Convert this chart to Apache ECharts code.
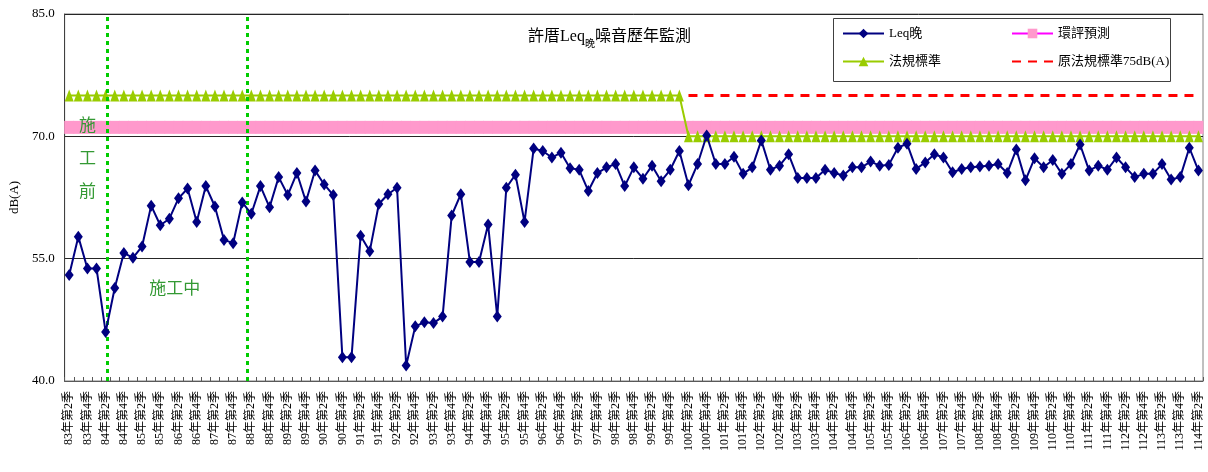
<!DOCTYPE html>
<html>
<head>
<meta charset="utf-8">
<script src="https://cdn.jsdelivr.net/npm/echarts@6/dist/echarts.min.js"></script>
<style>
html,body{margin:0;padding:0;background:#fff;}
#chart{width:1208px;height:472px;}
</style>
</head>
<body>
<div id="chart"></div>
<script>
const categories = [
'83年第2季','83年第3季','83年第4季',
'84年第1季','84年第2季','84年第3季','84年第4季',
'85年第1季','85年第2季','85年第3季','85年第4季',
'86年第1季','86年第2季','86年第3季','86年第4季',
'87年第1季','87年第2季','87年第3季','87年第4季',
'88年第1季','88年第2季','88年第3季','88年第4季',
'89年第1季','89年第2季','89年第3季','89年第4季',
'90年第1季','90年第2季','90年第3季','90年第4季',
'91年第1季','91年第2季','91年第3季','91年第4季',
'92年第1季','92年第2季','92年第3季','92年第4季',
'93年第1季','93年第2季','93年第3季','93年第4季',
'94年第1季','94年第2季','94年第3季','94年第4季',
'95年第1季','95年第2季','95年第3季','95年第4季',
'96年第1季','96年第2季','96年第3季','96年第4季',
'97年第1季','97年第2季','97年第3季','97年第4季',
'98年第1季','98年第2季','98年第3季','98年第4季',
'99年第1季','99年第2季','99年第3季','99年第4季',
'100年第1季','100年第2季','100年第3季','100年第4季',
'101年第1季','101年第2季','101年第3季','101年第4季',
'102年第1季','102年第2季','102年第3季','102年第4季',
'103年第1季','103年第2季','103年第3季','103年第4季',
'104年第1季','104年第2季','104年第3季','104年第4季',
'105年第1季','105年第2季','105年第3季','105年第4季',
'106年第1季','106年第2季','106年第3季','106年第4季',
'107年第1季','107年第2季','107年第3季','107年第4季',
'108年第1季','108年第2季','108年第3季','108年第4季',
'109年第1季','109年第2季','109年第3季','109年第4季',
'110年第1季','110年第2季','110年第3季','110年第4季',
'111年第1季','111年第2季','111年第3季','111年第4季',
'112年第1季','112年第2季','112年第3季','112年第4季',
'113年第1季','113年第2季','113年第3季','113年第4季',
'114年第1季','114年第2季'
];

const leqNight = [
53.0,57.7,53.8,53.8,46.0,51.4,55.7,55.1,56.5,61.5,
59.1,59.9,62.4,63.6,59.5,63.9,61.4,57.3,56.9,61.9,
60.5,63.9,61.3,65.0,62.8,65.5,62.0,65.8,64.1,62.8,
42.9,42.9,57.8,55.9,61.7,62.9,63.7,41.9,46.7,47.2,
47.1,47.9,60.3,62.9,54.6,54.6,59.2,47.9,63.7,65.3,
59.5,68.5,68.2,67.4,68.0,66.1,65.9,63.3,65.5,66.2,
66.6,63.9,66.2,64.8,66.4,64.5,65.9,68.2,64.0,66.6,
70.1,66.6,66.6,67.5,65.4,66.2,69.5,65.9,66.4,67.8,
64.9,64.9,64.9,65.9,65.5,65.2,66.2,66.2,66.9,66.4,
66.5,68.6,69.1,66.0,66.8,67.8,67.4,65.6,66.0,66.2,
66.3,66.4,66.6,65.5,68.4,64.6,67.3,66.2,67.1,65.4,
66.6,69.0,65.8,66.4,65.9,67.4,66.2,65.0,65.4,65.4,
66.6,64.7,65.0,68.6,65.8
];

const eiaPredicted = [
71.1,71.1,71.1,71.1,71.1,71.1,71.1,71.1,71.1,71.1,
71.1,71.1,71.1,71.1,71.1,71.1,71.1,71.1,71.1,71.1,
71.1,71.1,71.1,71.1,71.1,71.1,71.1,71.1,71.1,71.1,
71.1,71.1,71.1,71.1,71.1,71.1,71.1,71.1,71.1,71.1,
71.1,71.1,71.1,71.1,71.1,71.1,71.1,71.1,71.1,71.1,
71.1,71.1,71.1,71.1,71.1,71.1,71.1,71.1,71.1,71.1,
71.1,71.1,71.1,71.1,71.1,71.1,71.1,71.1,71.1,71.1,
71.1,71.1,71.1,71.1,71.1,71.1,71.1,71.1,71.1,71.1,
71.1,71.1,71.1,71.1,71.1,71.1,71.1,71.1,71.1,71.1,
71.1,71.1,71.1,71.1,71.1,71.1,71.1,71.1,71.1,71.1,
71.1,71.1,71.1,71.1,71.1,71.1,71.1,71.1,71.1,71.1,
71.1,71.1,71.1,71.1,71.1,71.1,71.1,71.1,71.1,71.1,
71.1,71.1,71.1,71.1,71.1
];

const legalStd = [
75,75,75,75,75,75,75,75,75,75,
75,75,75,75,75,75,75,75,75,75,
75,75,75,75,75,75,75,75,75,75,
75,75,75,75,75,75,75,75,75,75,
75,75,75,75,75,75,75,75,75,75,
75,75,75,75,75,75,75,75,75,75,
75,75,75,75,75,75,75,75,
70,70,70,70,70,70,70,70,70,70,
70,70,70,70,70,70,70,70,70,70,
70,70,70,70,70,70,70,70,70,70,
70,70,70,70,70,70,70,70,70,70,
70,70,70,70,70,70,70,70,70,70,
70,70,70,70,70,70,70
];

const oldStd75 = [
null,null,null,null,null,null,null,null,null,null,
null,null,null,null,null,null,null,null,null,null,
null,null,null,null,null,null,null,null,null,null,
null,null,null,null,null,null,null,null,null,null,
null,null,null,null,null,null,null,null,null,null,
null,null,null,null,null,null,null,null,null,null,
null,null,null,null,null,null,null,null,
75,75,75,75,75,75,75,75,75,75,
75,75,75,75,75,75,75,75,75,75,
75,75,75,75,75,75,75,75,75,75,
75,75,75,75,75,75,75,75,75,75,
75,75,75,75,75,75,75,75,75,75,
75,75,75,75,75,75,75
];

const yTicks = [40, 55, 70, 85];
const seriesNames = ['Leq晚', '環評預測', '法規標準', '原法規標準75dB(A)'];
// construction phase boundaries (in category-index units)
const phaseLines = [4.21, 19.57];
// phase annotations: [text, category-index position, dB position]
const phaseNotes = [
  ['施\n工\n前', 2.0, 67.4],
  ['施工中', 11.6, 51.4]
];

const serif = '"Liberation Serif","Times New Roman","Noto Sans CJK TC",serif';

const legendCommon = {
  orient: 'vertical',
  top: 27,
  itemWidth: 41, itemHeight: 12, itemGap: 15,
  padding: 0,
  textStyle: {fontFamily: serif, fontSize: 13, color: '#000'}
};

const chart = echarts.init(document.getElementById('chart'));
chart.setOption({
  animation: false,
  backgroundColor: '#fff',
  title: {
    text: '{a|許厝Leq}{s|晚}{a|噪音歷年監測}',
    left: 523, top: 18,
    textStyle: {
      fontWeight: 'normal',
      rich: {
        a: {fontFamily: serif, fontSize: 16, fontWeight: 'normal', color: '#000', lineHeight: 22, verticalAlign: 'bottom'},
        s: {fontFamily: serif, fontSize: 10, fontWeight: 'normal', color: '#000', lineHeight: 22, verticalAlign: 'bottom', padding: [0,0,-4,0]}
      }
    }
  },
  graphic: [{
    type: 'rect', left: 833, top: 18, z: 0,
    shape: {width: 337, height: 63},
    style: {fill: '#fff', stroke: '#404040', lineWidth: 1}
  }],
  legend: [
    Object.assign({}, legendCommon, {left: 842, data: [seriesNames[0], seriesNames[2]]}),
    Object.assign({}, legendCommon, {left: 1011, data: [
      {name: seriesNames[1]},
      {name: seriesNames[3], itemStyle: {opacity: 0}}
    ]})
  ],
  grid: {left: 63, right: 5, top: 14, bottom: 91, show: true, borderColor: '#808080', borderWidth: 1},
  xAxis: [{
    type: 'category',
    data: categories,
    boundaryGap: true,
    axisLine: {lineStyle: {color: '#595959', width: 1}},
    axisTick: {show: true, interval: 0, inside: true, length: 4, lineStyle: {color: '#595959'}},
    axisLabel: {interval: 1, rotate: 90, fontSize: 12, fontFamily: serif, color: '#000', margin: 10},
    splitLine: {show: false}
  }, {
    type: 'value', min: -0.5, max: categories.length - 0.5, show: false
  }],
  yAxis: {
    type: 'value',
    min: yTicks[0], max: yTicks[yTicks.length - 1], interval: 15,
    name: 'dB(A)', nameLocation: 'middle', nameGap: 40, nameRotate: 90,
    nameTextStyle: {fontFamily: serif, fontSize: 13, color: '#000'},
    axisLine: {show: true, onZero: false, lineStyle: {color: '#404040'}},
    axisTick: {show: false},
    axisLabel: {fontFamily: serif, fontSize: 13, color: '#000', margin: 10, formatter: v => v.toFixed(1)},
    splitLine: {show: true, lineStyle: {color: '#262626', width: 1}}
  },
  series: [
    {
      name: seriesNames[0], type: 'line', data: leqNight, z: 6,
      symbol: 'diamond', symbolSize: [9, 12], showAllSymbol: true,
      lineStyle: {color: '#000080', width: 2},
      itemStyle: {color: '#000080'}
    },
    {
      name: seriesNames[1], type: 'line', data: eiaPredicted, z: 2,
      symbol: 'rect', symbolSize: [10, 13], showAllSymbol: true,
      lineStyle: {color: '#FF00FF', width: 2},
      itemStyle: {color: '#FF99CC'}
    },
    {
      name: seriesNames[2], type: 'line', data: legalStd, z: 3,
      symbol: 'triangle', symbolSize: [9, 12], showAllSymbol: true,
      lineStyle: {color: '#99CC00', width: 2},
      itemStyle: {color: '#99CC00'}
    },
    {
      name: seriesNames[3], type: 'line', data: oldStd75, z: 3,
      symbol: 'none', showSymbol: false,
      lineStyle: {color: '#FF0000', width: 3, type: [9, 7]},
      itemStyle: {color: '#FF0000'}
    },
    {
      name: 'annotations', type: 'scatter', xAxisIndex: 1, data: [], z: 4,
      silent: true,
      markLine: {
        silent: true, symbol: 'none',
        label: {show: false},
        lineStyle: {color: '#00CC00', width: 3, type: [4, 4]},
        data: phaseLines.map(x => ({xAxis: x}))
      },
      markPoint: {
        silent: true,
        symbol: 'rect', symbolSize: 1,
        itemStyle: {color: 'rgba(0,0,0,0)'},
        label: {show: true, position: 'inside', color: '#339933', fontSize: 17,
                fontFamily: '"Noto Sans CJK TC",sans-serif', lineHeight: 33,
                formatter: p => p.name},
        data: phaseNotes.map(n => ({name: n[0], coord: [n[1], n[2]]}))
      }
    }
  ]
});
</script>
</body>
</html>
